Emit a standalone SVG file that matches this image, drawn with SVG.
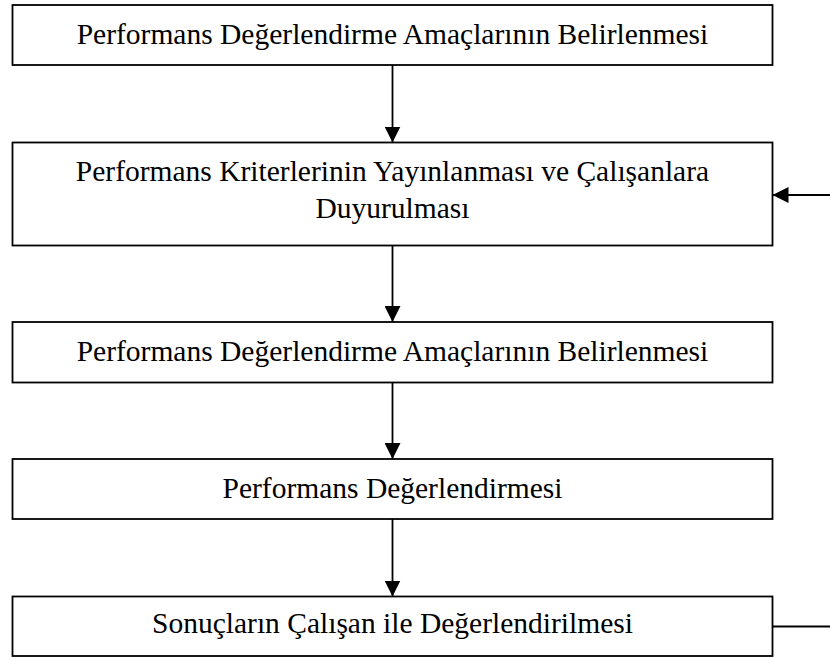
<svg xmlns="http://www.w3.org/2000/svg" width="830" height="657" viewBox="0 0 830 657">
  <style>
    .box { fill: #ffffff; stroke: #000000; stroke-width: 1.8; }
    .lbl { font-family: "Liberation Serif", "Times New Roman", serif; font-size: 29.5px; fill: #000000; text-anchor: middle; }
    .edge { fill: none; stroke: #000000; stroke-width: 1.8; }
  </style>
  <defs>
    <marker id="arrow" viewBox="0 0 16 16" refX="16" refY="8" markerWidth="16" markerHeight="16" markerUnits="userSpaceOnUse" orient="auto">
      <path d="M0,0 L16,8 L0,16 Z" fill="#000000"/>
    </marker>
  </defs>
  <rect width="830" height="657" fill="#ffffff"/>

  <g id="connectors">
    <line class="edge" x1="392.5" y1="65" x2="392.5" y2="142.5" marker-end="url(#arrow)"/>
    <line class="edge" x1="392.5" y1="245.5" x2="392.5" y2="322" marker-end="url(#arrow)"/>
    <line class="edge" x1="392.5" y1="382.5" x2="392.5" y2="459" marker-end="url(#arrow)"/>
    <line class="edge" x1="392.5" y1="519" x2="392.5" y2="596.5" marker-end="url(#arrow)"/>
    <line class="edge" x1="830" y1="195" x2="772.5" y2="195" marker-end="url(#arrow)"/>
    <line class="edge" x1="772.5" y1="626.5" x2="830" y2="626.5"/>
  </g>

  <g id="node-amaclar-1">
    <rect class="box" x="12.5" y="5" width="760" height="60"/>
    <text class="lbl" x="392.5" y="44">Performans Değerlendirme Amaçlarının Belirlenmesi</text>
  </g>
  <g id="node-kriterler">
    <rect class="box" x="12.5" y="142.5" width="760" height="103"/>
    <text class="lbl" x="392.5" y="180.5">Performans Kriterlerinin Yayınlanması ve Çalışanlara</text>
    <text class="lbl" x="392.5" y="217.5">Duyurulması</text>
  </g>
  <g id="node-amaclar-2">
    <rect class="box" x="12.5" y="322" width="760" height="60.5"/>
    <text class="lbl" x="392.5" y="361">Performans Değerlendirme Amaçlarının Belirlenmesi</text>
  </g>
  <g id="node-degerlendirme">
    <rect class="box" x="12.5" y="459" width="760" height="60"/>
    <text class="lbl" x="392.5" y="498">Performans Değerlendirmesi</text>
  </g>
  <g id="node-sonuclar">
    <rect class="box" x="12.5" y="596.5" width="760" height="59.5"/>
    <text class="lbl" x="392.5" y="633">Sonuçların Çalışan ile Değerlendirilmesi</text>
  </g>
</svg>
